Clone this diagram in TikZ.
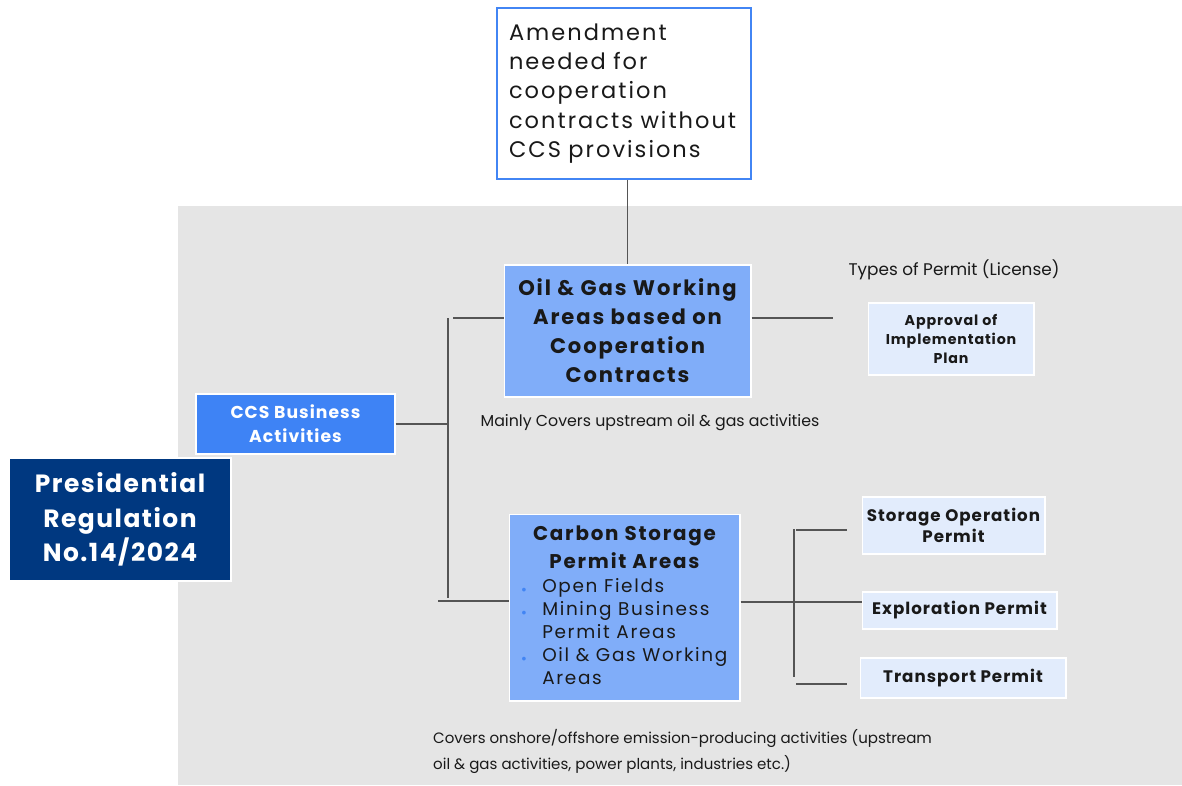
\documentclass[tikz,border=0pt]{standalone}
\usepackage{fontspec}
\setmainfont{Poppins}
\newfontfamily\spacedfont[LetterSpace=6]{Poppins}
\newfontfamily\widefont[LetterSpace=9]{Poppins}
\definecolor{bggray}{RGB}{229,229,229}
\definecolor{navyblue}{RGB}{0,56,128}
\definecolor{midblue}{RGB}{62,131,245}
\definecolor{areablue}{RGB}{128,173,249}
\definecolor{paleblue}{RGB}{226,236,252}
\definecolor{edgeblue}{RGB}{66,133,244}
\definecolor{linegray}{RGB}{85,85,85}
\definecolor{textdark}{RGB}{25,25,25}
\newcommand{\bul}{\textcolor{edgeblue}{\scalebox{0.5}{$\bullet$}}}

\begin{document}
\begin{tikzpicture}[x=0.02cm, y=-0.02cm,
  box/.style={rectangle, inner sep=0pt, align=center, text=textdark},
  areabox/.style={box, fill=areablue, draw=white, line width=0.6pt},
  permitbox/.style={box, fill=paleblue, draw=white, line width=0.6pt,
    font=\spacedfont\fontsize{9.5}{12}\selectfont\bfseries},
  link/.style={draw=linegray, line width=1pt},
  caption/.style={text=textdark, font=\fontsize{9}{14.7}\selectfont}]

\useasboundingbox (0,0) rectangle (1182,785);

% Background panel
\fill[bggray] (178,206) rectangle (1182,785);

% Top note
\node[box, fill=white, draw=edgeblue, line width=1pt, minimum width=5.08cm,
  minimum height=3.42cm, align=left, text width=4.6cm,
  font=\widefont\fontsize{12.8}{16.7}\selectfont] (amend) at (624,93.5)
  {Amendment\\needed for\\cooperation\\contracts without\\CCS provisions};

% Regulation and activities
\node[box, fill=navyblue, draw=white, line width=0.6pt, text=white,
  minimum width=4.44cm, minimum height=2.46cm,
  font=\spacedfont\fontsize{14.2}{19.5}\selectfont\bfseries] (pres) at (120,519.5)
  {Presidential\\Regulation\\No.14/2024};
\node[box, fill=midblue, draw=white, line width=0.6pt, text=white,
  minimum width=3.98cm, minimum height=1.2cm,
  font=\spacedfont\fontsize{9.8}{13.5}\selectfont\bfseries] (ccs) at (295.5,424)
  {CCS Business\\Activities};

% Areas
\node[areabox, minimum width=4.94cm, minimum height=2.64cm,
  font=\widefont\fontsize{12}{16.5}\selectfont\bfseries] (oilgas) at (627.5,331)
  {Oil \& Gas Working\\Areas based on\\Cooperation\\Contracts};
\node[areabox, minimum width=4.62cm, minimum height=3.74cm,
  font=\widefont\fontsize{10.5}{13}\selectfont] (csa) at (624.5,607.5)
  {\begin{tabular}{@{}c@{}}\fontsize{11.3}{14.5}\selectfont\bfseries Carbon Storage\\[3pt]
   \fontsize{11.3}{14.5}\selectfont\bfseries Permit Areas\end{tabular}\\
   \begin{tabular}{@{}l@{\hspace{9pt}}l@{}}
   \bul & Open Fields\\
   \bul & Mining Business\\
        & Permit Areas\\
   \bul & Oil \& Gas Working\\
        & Areas
   \end{tabular}};

% Permits
\node[caption, font=\fontsize{9.6}{13}\selectfont] (types) at (954,270) {Types of Permit (License)};
\node[permitbox, minimum width=3.32cm, minimum height=1.44cm,
  font=\spacedfont\fontsize{8.1}{11}\selectfont\bfseries] (approval) at (951,339)
  {Approval of\\Implementation\\Plan};
\node[permitbox, minimum width=3.66cm, minimum height=1.14cm] (storop) at (953.5,525.5)
  {Storage Operation\\Permit};
\node[permitbox, minimum width=3.9cm, minimum height=0.74cm] (explo) at (959.5,610.5)
  {Exploration Permit};
\node[permitbox, minimum width=4.12cm, minimum height=0.8cm] (trans) at (963,678)
  {Transport Permit};

% Captions
\node[caption] (oilnote) at (650,423) {Mainly Covers upstream oil \& gas activities};
\node[caption, anchor=north west, align=left, font=\fontsize{8.55}{14.7}\selectfont] (csanote) at (427,723)
  {Covers onshore/offshore emission-producing activities (upstream\\oil \& gas activities, power plants, industries etc.)};

% Connectors
\coordinate (spinetop) at (448,318);
\coordinate (spinebot) at (448,598);
\coordinate (botleft) at (438,601);
\coordinate (rspine) at (794,602);
\draw[link] (oilgas.north |- amend.south) -- (oilgas.north);
\draw[link] (ccs.east) -- (ccs.east -| spinetop);
\draw[link] (spinetop) -- (spinebot);
\draw[link] ([xshift=0.1cm]spinetop) -- (oilgas.west |- spinetop);
\draw[link] (botleft) -- (csa.west |- botleft);
\draw[link] (oilgas.east |- spinetop) -- (833,318);
\draw[link] (csa.east |- rspine) -- (explo.west |- rspine);
\draw[link] (794,529) -- (794,677);
\draw[link] (796,530) -- (847,530);
\draw[link] (796,684) -- (847,684);

\end{tikzpicture}
\end{document}
